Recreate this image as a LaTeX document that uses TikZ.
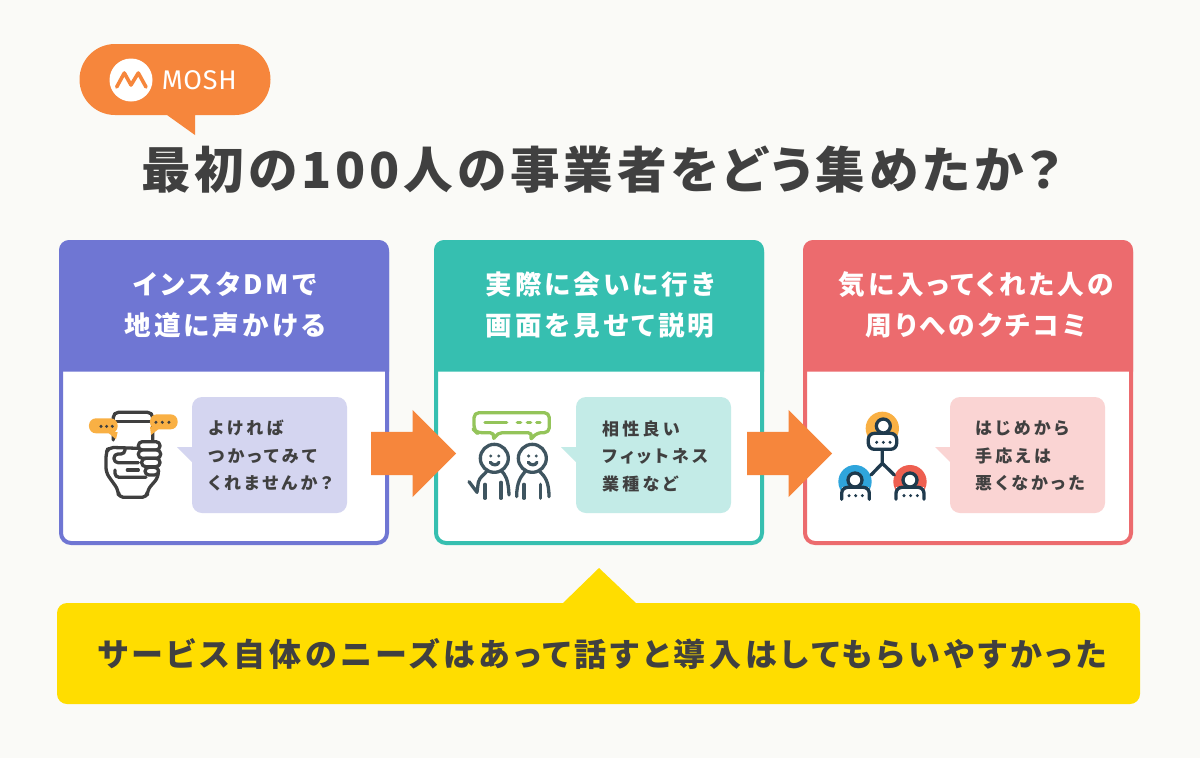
\documentclass[tikz,border=0pt]{standalone}
\usepackage{xcolor}
\usepackage{fontspec}
\usetikzlibrary{arrows.meta,positioning,shapes.arrows}
\newfontfamily\jpfont{Noto Sans CJK JP}[LetterSpace=12,RawFeature=+palt]
\newfontfamily\jpsmall{Noto Sans CJK JP}[LetterSpace=19,RawFeature=+palt]
\newfontfamily\jpwide{Noto Sans CJK JP}[LetterSpace=12,RawFeature=+palt]
\newfontfamily\jptitle{Noto Sans CJK JP}[LetterSpace=8,RawFeature=+palt]
\newfontfamily\logofont{Fira Sans}[LetterSpace=3]
\definecolor{fundo}{HTML}{FAFAF7}
\definecolor{tinta}{HTML}{404040}
\definecolor{laranja}{HTML}{F6863C}
\definecolor{amarelo}{HTML}{FFDD00}
\definecolor{roxo}{HTML}{6F76D3}
\definecolor{roxoclaro}{HTML}{D4D5F0}
\definecolor{verde}{HTML}{36BFB0}
\definecolor{verdeclaro}{HTML}{C3EBE7}
\definecolor{vermelho}{HTML}{EC6B6E}
\definecolor{vermelhoclaro}{HTML}{FAD4D3}
\definecolor{iconebase}{HTML}{3F3F3F}
\definecolor{iconeazul}{HTML}{3F5560}
\definecolor{icononavy}{HTML}{1F3A4D}
\definecolor{iconeamarelo}{HTML}{F9B044}
\definecolor{iconeverde}{HTML}{94C45A}
\definecolor{iconeceu}{HTML}{2FA5DC}
\definecolor{iconecoral}{HTML}{EE5F50}
\tikzset{
  cardbox/.style={draw=#1,fill=white,line width=4pt,rounded corners=10pt,minimum width=326pt,minimum height=301pt},
  headtext/.style={text=white,align=center,font=\jpwide\bfseries\fontsize{26.6}{40.5}\selectfont},
  bubblebox/.style={fill=#1,rounded corners=10pt,minimum width=155pt,minimum height=116pt},
  bubbletext/.style={inner sep=0pt,align=left,text=tinta,font=\jpsmall\bfseries\fontsize{17}{27.5}\selectfont},
  bigarrow/.style={single arrow,fill=laranja,inner ysep=21.5pt,inner xsep=0pt,minimum height=85pt,minimum width=87pt,single arrow head extend=22pt,single arrow tip angle=90,anchor=tail},
}
\begin{document}
\begin{tikzpicture}[x=1pt,y=-1pt]
    \useasboundingbox[fill=fundo] (0,0) rectangle (1200,758);
    % logo
    \fill[laranja] (115,44) -- (235,44) arc[start angle=-90,end angle=90,radius=35.5] -- (195,115) -- (195,135) -- (167,115) -- (115,115) arc[start angle=90,end angle=270,radius=35.5] -- cycle;
    \node[circle,fill=white,minimum size=43pt,inner sep=0pt] (logomark) at (131,80) {};
    \draw[laranja,line width=3.6pt,line cap=round,line join=round] (116.7,87) -- (124.3,73) -- (131,85) -- (138.3,73) -- (146,87);
    \node[right=9pt of logomark,text=white,inner sep=0pt,font=\logofont\fontsize{27}{27}\selectfont] (logotext) {MOSH};
    \node[text=tinta,inner sep=0pt,font=\jptitle\bfseries\fontsize{49.6}{49.6}\selectfont] (title) at (601.5,169.5) {最初の100人の事業者をどう集めたか？};
    % cards
    \node[cardbox=roxo] (card1) at (224,392.5) {};
    \node[cardbox=verde,right=45pt of card1] (card2) {};
    \node[cardbox=vermelho,right=39pt of card2] (card3) {};
    \fill[roxo,sharp corners] (59,371.5) [rounded corners=10pt] -- (59,240) -- (389,240) [sharp corners] -- (389,371.5) -- cycle;
    \fill[verde,sharp corners] (434,371.5) [rounded corners=10pt] -- (434,240) -- (764,240) [sharp corners] -- (764,371.5) -- cycle;
    \fill[vermelho,sharp corners] (803,371.5) [rounded corners=10pt] -- (803,240) -- (1133,240) [sharp corners] -- (1133,371.5) -- cycle;
    \node[headtext] (head1) at (225,305) {インスタDMで\\地道に声かける};
    \node[headtext] (head2) at (600,305) {実際に会いに行き\\画面を見せて説明};
    \node[headtext] (head3) at (976,305) {気に入ってくれた人の\\周りへのクチコミ};
    % bubbles
    \node[bubblebox=roxoclaro] (bub1) at (269.5,455) {};
    \node[bubblebox=verdeclaro] (bub2) at (653.5,455) {};
    \node[bubblebox=vermelhoclaro] (bub3) at (1027.5,455) {};
    \node[bubbletext,anchor=west] (say1) at (208,456) {よければ\\つかってみて\\くれませんか？};
    \node[bubbletext,anchor=west] (say2) at (602,456) {相性良い\\フィットネス\\業種など};
    \node[bubbletext,anchor=west] (say3) at (975,456) {はじめから\\手応えは\\悪くなかった};
    \fill[roxoclaro] (193,447) -- (177,447) -- (193,463) -- cycle;
    \fill[verdeclaro] (577,447) -- (561,447) -- (577,463) -- cycle;
    \fill[vermelhoclaro] (951,447) -- (935,447) -- (951,463) -- cycle;
    % arrows
    \node[bigarrow] (arrow1) at (371,453.5) {};
    \node[bigarrow] (arrow2) at (747,453.5) {};
    % bottom
    \fill[amarelo] (562,604) -- (599,568) -- (637,604) -- cycle;
    \node[fill=amarelo,rounded corners=10pt,minimum width=1083pt,minimum height=101pt] (note) at (598.5,653.5) {};
    \node[text=tinta,inner sep=0pt,font=\jpfont\bfseries\fontsize{32}{32}\selectfont] (notetext) at (602,654) {サービス自体のニーズはあって話すと導入はしてもらいやすかった};
    % phone
    \begin{scope}[shift={(70,390)},x=0.3333pt,y=-0.3333pt,line width=3.3pt,draw=iconebase,line cap=round,line join=round]
      \draw[rounded corners=5pt] (130,150) -- (130,67) -- (248,67) -- (248,155);
      \draw (130,95) -- (248,95);
      \draw[rounded corners=4pt] (135,240) -- (135,262) -- (228,262);
      \draw (172,240) -- (205,240);
      \draw[rounded corners=5pt] (205,175) -- (115,172) -- (108,190) -- (108,248) -- (145,300) -- (145,322) -- (232,322) -- (232,300) -- (265,262) -- (265,240);
      \draw[rounded corners=4pt] (165,178) -- (165,192) -- (132,192) -- (132,218) -- (205,218);
      \draw[fill=white,rounded corners=4pt] (205,155) rectangle (270,180);
      \draw[fill=white,rounded corners=4pt] (205,180) rectangle (272,205);
      \draw[fill=white,rounded corners=4pt] (215,205) rectangle (270,230);
      \draw[fill=white,rounded corners=4pt] (225,232) rectangle (266,255);
      \fill[iconeamarelo,rounded corners=7pt] (57,85) rectangle (143,130);
      \fill[iconeamarelo] (112,126) -- (143,126) -- (138,148) -- cycle;
      \fill[iconeamarelo,rounded corners=7pt] (240,73) rectangle (323,118);
      \fill[iconeamarelo] (240,110) -- (270,114) -- (243,135) -- cycle;
      \foreach \px in {93,110,127} \fill[iconebase] (\px,109) circle (5);
      \foreach \px in {258,277,297} \fill[iconebase] (\px,97) circle (5);
    \end{scope}
    % people
    \begin{scope}[shift={(455,395)},x=0.3333pt,y=-0.3333pt,line width=3.3pt,line cap=round,line join=round]
      \draw[iconeverde,rounded corners=5pt] (127,113) -- (113,138) -- (120,113) -- (65,113) -- (57,105) -- (57,53) -- (283,53) -- (283,113) -- (245,113) -- (224,138) -- (234,113) -- cycle;
      \draw[iconeverde] (90,82) -- (155,82);
      \foreach \px in {192,222,250} \draw[iconeverde] (\px-5,82) -- (\px+5,82);
      \draw[iconeazul] (118,190) circle (42);
      \draw[iconeazul] (232,190) circle (42);
      \foreach \px in {107,131,221,244} \fill[iconeazul] (\px,183) circle (5);
      \draw[iconeazul] (106,202) .. controls (113,212) and (127,212) .. (132,202);
      \draw[iconeazul] (220,202) .. controls (227,212) and (241,212) .. (246,202);
      \draw[iconeazul] (42,260) -- (66,292) -- (70,262) .. controls (74,245) and (88,240) .. (96,228);
      \draw[iconeazul] (140,228) .. controls (150,240) and (160,250) .. (162,300);
      \draw[iconeazul] (90,268) -- (90,310);
      \draw[iconeazul] (138,262) -- (138,310);
      \draw[iconeazul] (185,305) .. controls (185,260) and (198,245) .. (210,230);
      \draw[iconeazul] (255,230) .. controls (270,245) and (282,260) .. (282,305);
      \draw[iconeazul] (207,268) -- (207,310);
      \draw[iconeazul] (256,268) -- (256,310);
    \end{scope}
    % network
    \begin{scope}[shift={(825,400)},x=0.3333pt,y=-0.3333pt,line width=3.3pt,draw=icononavy,line cap=round,line join=round]
      \fill[iconeamarelo] (172,85) circle (50);
      \fill[iconeceu] (90,245) circle (50);
      \fill[iconecoral] (255,245) circle (50);
      \draw (172,148) -- (172,190) -- (138,225);
      \draw (172,190) -- (208,225);
      \draw[fill=white,rounded corners=6pt] (130,100) rectangle (215,148);
      \draw[fill=white] (175,78) circle (21);
      \foreach \px in {155,175,195} \fill[icononavy] (\px,127) circle (5);
      \fill[white] (50,262) rectangle (133,298);
      \fill[white] (213,262) rectangle (297,298);
      \draw[rounded corners=6pt] (50,298) -- (50,262) -- (133,262) -- (133,298);
      \draw[rounded corners=6pt] (213,298) -- (213,262) -- (297,262) -- (297,298);
      \draw[fill=white] (90,240) circle (21);
      \draw[fill=white] (255,240) circle (21);
      \foreach \px in {72,92,112,237,257,277} \fill[icononavy] (\px,287) circle (5);
    \end{scope}
  \end{tikzpicture}
\end{document}
